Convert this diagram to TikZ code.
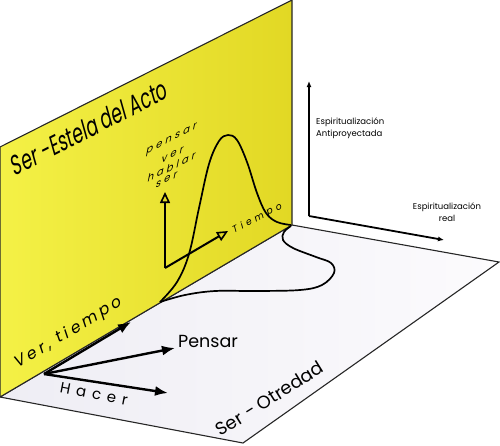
\documentclass[tikz,border=0pt]{standalone}
\usepackage{fontspec}
\usetikzlibrary{arrows.meta}
\newfontfamily\geo{Poppins}
\newfontfamily\geoit{Poppins}[FakeSlant=0.22]
\newfontfamily\condit{Poppins}[FakeSlant=0.2,FakeStretch=0.66]
\definecolor{yelL}{RGB}{244,241,70}
\definecolor{yelR}{RGB}{226,216,36}
\definecolor{floorL}{RGB}{238,237,244}
\definecolor{floorR}{RGB}{252,251,253}
\begin{document}
\begin{tikzpicture}[x=1pt,y=-1pt,
  thinline/.style={line width=1.1pt,draw=black!85},
  curveline/.style={line width=1.7pt,black,line join=round},
  floorarrow/.style={line width=2.4pt,black,-{Latex[length=13pt,width=10pt]}},
  planearrow/.style={line width=2pt,black,-{Triangle[open,length=11pt,width=10pt,line width=1.6pt,fill=yelR]}},
  axisline/.style={line width=1.8pt,black,-{Latex[length=6pt,width=5pt]}},
  lab/.style={inner sep=0pt},
  smallit/.style={lab,yslant=0.5,font={\geoit\addfontfeature{LetterSpace=30}\fontsize{10}{10}\selectfont}},
  spir/.style={lab,align=left,font={\geo\fontsize{8.5}{12}\selectfont}}]
\useasboundingbox (0,0) rectangle (500,445);
% floor
\coordinate (fA) at (0,397);
\coordinate (fB) at (292,225);
\coordinate (fC) at (499,262);
\coordinate (fD) at (243,443);
\shade[left color=floorL,right color=floorR] (fA) -- (fB) -- (fC) -- (fD) -- cycle;
\draw[thinline] (fA) -- (fB) -- (fC) -- (fD) -- cycle;
% yellow plane
\coordinate (yA) at (0,147);
\coordinate (yB) at (292,0);
\shade[left color=yelL,right color=yelR] (yA) -- (yB) -- (fB) -- (fA) -- cycle;
\draw[thinline] (yA) -- (yB) -- (fB) -- (fA) -- cycle;
% curves
\draw[curveline] plot[smooth,tension=0.6] coordinates {(160,302) (177,282) (189,254) (199,208) (209,164) (219,141) (228,135) (237,140) (247,162) (257,193) (266,213) (277,222) (291,225)};
\draw[curveline] plot[smooth,tension=0.6] coordinates {(160,302) (185,295) (215,291) (255,291) (300,290) (322,285) (334,273) (331,263) (316,257) (293,248) (283,240) (284,232) (291,226)};
% plane axes
\coordinate (po) at (165,268);
\coordinate (pv) at (165,192);
\coordinate (pt) at (228,231);
\draw[planearrow] (po) -- (pv);
\draw[planearrow] (po) -- (pt);
% floor arrows
\coordinate (fo) at (44,374);
\coordinate (fv) at (131,322);
\coordinate (fp) at (175,348);
\coordinate (fh) at (168,393);
\draw[floorarrow] (fo) -- (fv);
\draw[floorarrow] (fo) -- (fp);
\draw[floorarrow] (fo) -- (fh);
% right axes
\coordinate (ao) at (309,216);
\coordinate (av) at (309,81);
\coordinate (ah) at (444,240);
\draw[axisline] (ao) -- (av);
\draw[axisline] (ao) -- (ah);
% texts
\node[lab,anchor=base,rotate=27] (tEst) at (92,137) {\condit\fontsize{27}{27}\selectfont Ser -Estela del Acto};
\node[lab,anchor=base,rotate=31] (tVer) at (70,337) {\geoit\addfontfeature{LetterSpace=22}\fontsize{16}{16}\selectfont Ver, tiempo};
\node[lab,anchor=base west] (tPen) at (178,347) {\geo\fontsize{17.5}{17.5}\selectfont Pensar};
\node[lab,anchor=base,rotate=-11] (tHac) at (93,399) {\geo\addfontfeature{LetterSpace=40}\fontsize{15}{15}\selectfont Hacer};
\node[lab,anchor=base,rotate=32] (tOtr) at (273,404) {\geo\fontsize{18}{18}\selectfont Ser - Otredad};
\node[lab,anchor=base,rotate=28] (tTie) at (258,221) {\geoit\addfontfeature{LetterSpace=40}\fontsize{9.5}{9.5}\selectfont Tiempo};
\node[smallit] (tp1) at (171,140) {pensar};
\node[smallit] (tp2) at (172,155) {ver};
\node[smallit] (tp3) at (171,167) {hablar};
\node[smallit] (tp4) at (166,180) {ser};
\node[spir,anchor=base west] (tEA) at (316,136) {Espiritualización\\Antiproyectada};
\node[spir,align=center,anchor=base] (tER) at (447,221) {Espiritualización\\real};
\end{tikzpicture}
\end{document}
